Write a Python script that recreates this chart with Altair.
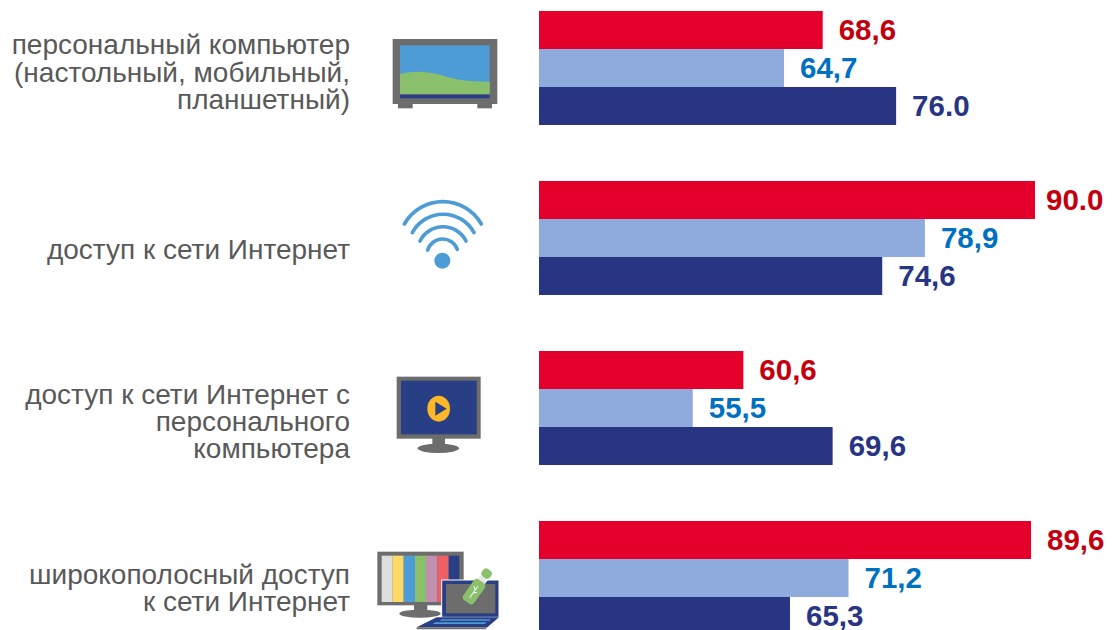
import base64
import altair as alt
import pandas as pd

categories = ["персональный компьютер", "доступ к сети Интернет",
              "доступ к сети Интернет с", "широкополосный доступ"]
category_lines = [
    ["персональный компьютер", "(настольный, мобильный,", "планшетный)"],
    ["доступ к сети Интернет"],
    ["доступ к сети Интернет с", "персонального", "компьютера"],
    ["широкополосный доступ", "к сети Интернет"],
]
line_offsets = [[-22, 6, 33], [13], [-12, 15, 42], [-2, 25]]
series = ["ряд 1", "ряд 2", "ряд 3"]
values_1 = [68.6, 90.0, 60.6, 89.6]
values_2 = [64.7, 78.9, 55.5, 71.2]
values_3 = [76.0, 74.6, 69.6, 65.3]
labels_1 = ["68,6", "90.0", "60,6", "89,6"]
labels_2 = ["64,7", "78,9", "55,5", "71,2"]
labels_3 = ["76.0", "74,6", "69,6", "65,3"]
bar_colors = ["#E4002B", "#8FAADC", "#283583"]
text_colors = ["#C4000F", "#0070C0", "#283583"]

rows = []
for s, vals, labs in zip(series, [values_1, values_2, values_3], [labels_1, labels_2, labels_3]):
    for c, v, l in zip(categories, vals, labs):
        rows.append({"cat": c, "series": s, "value": v, "label": l})
df = pd.DataFrame(rows)

GRAY = "#6D6D6D"
BLUE = "#4E9CD5"
NAVY = "#283F85"


def svg_uri(w, h, body):
    svg = (f'<svg xmlns="http://www.w3.org/2000/svg" width="{w}" height="{h}" '
           f'viewBox="0 0 {w * 3} {h * 3}">{body}</svg>')
    return "data:image/svg+xml;base64," + base64.b64encode(svg.encode()).decode()


icon_1 = svg_uri(150, 110, f'''
<rect x="84" y="240" width="44" height="25" fill="{GRAY}"/>
<rect x="322" y="240" width="44" height="25" fill="{GRAY}"/>
<rect x="68" y="57" width="314" height="195" fill="{GRAY}"/>
<rect x="90" y="76" width="269" height="146" fill="{BLUE}"/>
<path d="M90 162 C130 152 170 152 215 166 C265 182 310 186 359 185 L359 222 L90 222 Z" fill="#8AC06C"/>
<rect x="90" y="224" width="269" height="11" fill="{NAVY}"/>''')

icon_2 = svg_uri(150, 90, f'''
<g fill="none" stroke="{BLUE}" stroke-width="11" stroke-linecap="round">
<path d="M103 102 A133 133 0 0 1 334 102"/>
<path d="M127 128 A105 105 0 0 1 312 128"/>
<path d="M150 153 A77 77 0 0 1 288 153"/>
<path d="M173 180 A47 47 0 0 1 262 178"/>
</g>
<circle cx="217" cy="212" r="24" fill="{BLUE}"/>''')

icon_3 = svg_uri(150, 95, f'''
<rect x="187" y="215" width="38" height="28" fill="{GRAY}"/>
<ellipse cx="205" cy="250" rx="62" ry="14" fill="{GRAY}"/>
<rect x="80" y="35" width="252" height="186" fill="{GRAY}"/>
<rect x="93" y="47" width="227" height="161" fill="{NAVY}"/>
<ellipse cx="206" cy="131" rx="34" ry="39" fill="#FDB827"/>
<path d="M196 110 L196 152 L230 131 Z" fill="{NAVY}"/>''')

stripes = [("#DDDDDD", 35, 33), ("#FFD966", 68, 33), (BLUE, 101, 34), ("#8AC06C", 135, 33),
           ("#C18FB0", 168, 34), ("#EF5F66", 202, 34), (NAVY, 236, 32)]
stripe_svg = "".join(f'<rect x="{x}" y="47" width="{w}" height="139" fill="{c}"/>' for c, x, w in stripes)
icon_4 = svg_uri(150, 90, f'''
<rect x="132" y="190" width="40" height="25" fill="{GRAY}"/>
<ellipse cx="150" cy="221" rx="62" ry="12" fill="{GRAY}"/>
<rect x="22" y="35" width="259" height="161" fill="{GRAY}"/>
{stripe_svg}
<rect x="215" y="120" width="172" height="112" fill="{NAVY}" stroke="white" stroke-width="3"/>
<rect x="228" y="132" width="148" height="88" fill="{GRAY}"/>
<path d="M200 232 L387 232 L352 262 L140 262 Z" fill="{NAVY}"/>
<path d="M215 238 L362 238 L358 242 L209 242 Z M196 247 L350 247 L344 252 L188 252 Z" fill="{BLUE}"/>
<path d="M140 262 L352 262 L346 268 L140 268 Z" fill="{GRAY}"/>
<g transform="translate(312 155) rotate(35)">
<rect x="-13" y="-52" width="26" height="18" fill="#E8E8E8" stroke="white" stroke-width="2"/>
<rect x="-20" y="-38" width="40" height="76" rx="12" fill="#8AC06C"/>
<rect x="-15" y="-80" width="30" height="28" rx="12" fill="#8AC06C"/>
<path d="M0 -20 L0 22 M0 -6 L-9 -13 M0 4 L9 -3" stroke="white" stroke-width="3" fill="none"/>
</g>''')

icons = [(icon_1, 370, 20, 150, 110), (icon_2, 370, 190, 150, 90),
         (icon_3, 370, 365, 150, 95), (icon_4, 370, 540, 150, 90)]

x_scale = alt.Scale(domain=[40, 90], range=[531, 1027])
y_scale = alt.Scale(domain=categories, range=[3, 627], paddingInner=0.329, paddingOuter=0)
offset_scale = alt.Scale(domain=series, paddingInner=0, paddingOuter=0)

y_enc = alt.Y("cat:N", scale=y_scale, axis=None, title=None, sort=categories)
y_off = alt.YOffset("series:N", scale=offset_scale, sort=series)

bars = alt.Chart(df).mark_bar(clip=True, cornerRadius=0).encode(
    x=alt.X("value:Q", scale=x_scale, axis=None),
    x2=alt.datum(40),
    y=y_enc,
    yOffset=y_off,
    color=alt.Color("series:N", scale=alt.Scale(domain=series, range=bar_colors), legend=None),
)


def value_layer(frame, dx):
    return alt.Chart(frame).mark_text(
        align="left", baseline="middle", dx=dx, dy=1, fontSize=29.5, fontWeight="bold", font="Liberation Sans"
    ).encode(
        x=alt.X("value:Q", scale=x_scale, axis=None),
        y=y_enc,
        yOffset=y_off,
        text="label:N",
        color=alt.Color("series:N", scale=alt.Scale(domain=series, range=text_colors), legend=None),
    )


values_text = value_layer(df[df["label"] != "90.0"], 16)
values_edge = value_layer(df[df["label"] == "90.0"], 11)

cat_layers = []
for c, lines, offs in zip(categories, category_lines, line_offsets):
    for line, off in zip(lines, offs):
        cat_layers.append(
            alt.Chart(pd.DataFrame({"cat": [c], "line": [line]})).mark_text(
                align="right", baseline="middle", dy=off,
                fontSize=28, font="Liberation Sans", color="#595959",
            ).encode(x=alt.value(342), y=y_enc, text="line:N")
        )

icon_layers = []
for uri, px, py, w, h in icons:
    icon_layers.append(
        alt.Chart(pd.DataFrame({"u": [uri]})).mark_image(
            width=w, height=h, align="left", baseline="top", aspect=False
        ).encode(x=alt.value(px - 8), y=alt.value(py - 8), url="u:N")
    )

chart = alt.layer(bars, values_text, values_edge, *cat_layers, *icon_layers).resolve_scale(color="independent").properties(
    width=1104, height=622,
    padding={"left": 0, "top": 0, "right": -8, "bottom": 0},
    autosize=alt.AutoSizeParams(type="none"),
    background="white",
).configure_view(stroke=None)

chart.save("out.html", embed_options={"renderer": "svg", "actions": False})
